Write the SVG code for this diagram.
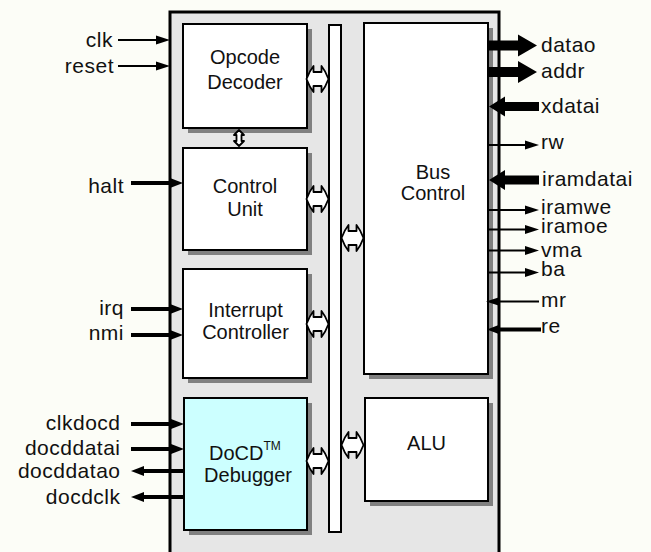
<svg xmlns="http://www.w3.org/2000/svg" width="651" height="552" viewBox="0 0 651 552">
<style>
  text { font-family: "Liberation Sans", Arial, sans-serif; font-size: 20px; fill: #111; }
  .sig { font-size: 21px; letter-spacing: 0.5px; }
  .lbl { text-anchor: middle; }
  .lft { text-anchor: end; }
  .box { fill: #fff; stroke: #000; stroke-width: 2; }
  .dbg { fill: #ccffff; }
  .shd { fill: #808080; }
  .w2 { stroke: #000; stroke-width: 2; fill: none; }
  .w4 { stroke: #000; stroke-width: 4; fill: none; }
  .blk { fill: #000; }
  .dbl { fill: #fff; stroke: #000; stroke-width: 1.8; stroke-linejoin: round; }
</style>
<defs>
  <marker id="ah2" markerUnits="userSpaceOnUse" markerWidth="14" markerHeight="10" refX="0" refY="5" orient="auto">
    <path d="M0,0.5 L14,5 L0,9.5 Z" fill="#000"/>
  </marker>
  <marker id="ah4" markerUnits="userSpaceOnUse" markerWidth="13" markerHeight="11" refX="0" refY="5.5" orient="auto">
    <path d="M0,0.5 L13,5.5 L0,10.5 Z" fill="#000"/>
  </marker>
  <path id="hdbl" d="M-11,0 Q-8,-8 -4,-13 L-4,-7 L4,-7 L4,-13 Q8,-8 11,0 Q8,8 4,13 L4,7 L-4,7 L-4,13 Q-8,8 -11,0 Z"/>
  <path id="vdbl" d="M0,-8 L-5,-3 L-2.5,-3 L-2.5,3 L-5,3 L0,8 L5,3 L2.5,3 L2.5,-3 L5,-3 Z"/>
</defs>
<rect width="651" height="552" fill="#fcfdf7"/>

<g id="chip">
  <rect x="170" y="12" width="329" height="560" fill="#e6e6e6" stroke="#000" stroke-width="3"/>
</g>

<g id="opcode-decoder">
  <rect class="shd" x="188" y="29" width="124" height="104"/>
  <rect class="box" x="183" y="24" width="124" height="104"/>
  <text class="lbl" x="245" y="64">Opcode</text>
  <text class="lbl" x="245" y="89">Decoder</text>
</g>

<g id="control-unit">
  <rect class="shd" x="188" y="153" width="124" height="102"/>
  <rect class="box" x="183" y="148" width="124" height="102"/>
  <text class="lbl" x="245" y="193">Control</text>
  <text class="lbl" x="245" y="216">Unit</text>
</g>

<g id="interrupt-controller">
  <rect class="shd" x="188" y="274" width="124" height="109"/>
  <rect class="box" x="183" y="269" width="124" height="109"/>
  <text class="lbl" x="245.5" y="316.5">Interrupt</text>
  <text class="lbl" x="245.5" y="338.5">Controller</text>
</g>

<g id="docd-debugger">
  <rect class="shd" x="189" y="403" width="123" height="132"/>
  <rect class="box dbg" x="184" y="398" width="123" height="132"/>
  <text x="209" y="460">DoCD<tspan font-size="12" dy="-10">TM</tspan></text>
  <text class="lbl" x="248" y="482">Debugger</text>
</g>

<g id="internal-bus">
  <rect class="box" x="329" y="25" width="12" height="507"/>
</g>

<g id="bus-control">
  <rect class="shd" x="369" y="28" width="124" height="351"/>
  <rect class="box" x="364" y="23" width="124" height="351"/>
  <text class="lbl" x="433" y="179">Bus</text>
  <text class="lbl" x="433" y="200">Control</text>
</g>

<g id="alu">
  <rect class="shd" x="370" y="403" width="123" height="103"/>
  <rect class="box" x="365" y="398" width="123" height="103"/>
  <text class="lbl" x="426.5" y="450">ALU</text>
</g>

<g id="connectors">
  <!-- internal bus links -->
  <use href="#hdbl" class="dbl" x="317.5" y="79"/>
  <use href="#hdbl" class="dbl" x="317.5" y="199"/>
  <use href="#hdbl" class="dbl" x="317.5" y="324"/>
  <use href="#hdbl" class="dbl" x="317.5" y="461"/>
  <use href="#hdbl" class="dbl" x="352.5" y="238"/>
  <use href="#hdbl" class="dbl" x="352.5" y="445"/>
  <use href="#vdbl" class="dbl" x="239" y="138"/>

  <!-- left side signals -->
  <line class="w2" x1="118" y1="40" x2="156" y2="40" marker-end="url(#ah2)"/>
  <line class="w2" x1="118" y1="66" x2="156" y2="66" marker-end="url(#ah2)"/>
  <line class="w4" x1="131" y1="183" x2="170" y2="183" marker-end="url(#ah4)"/>
  <line class="w4" x1="131" y1="309" x2="170" y2="309" marker-end="url(#ah4)"/>
  <line class="w4" x1="131" y1="335" x2="170" y2="335" marker-end="url(#ah4)"/>
  <line class="w4" x1="131" y1="424" x2="171" y2="424" marker-end="url(#ah4)"/>
  <line class="w4" x1="131" y1="449" x2="171" y2="449" marker-end="url(#ah4)"/>
  <line class="w4" x1="184" y1="471" x2="144" y2="471" marker-end="url(#ah4)"/>
  <line class="w4" x1="184" y1="497" x2="144" y2="497" marker-end="url(#ah4)"/>

  <!-- right side signals -->
  <polygon class="blk" points="488,40.5 518,40.5 518,34.5 537,45.5 518,56.5 518,50.5 488,50.5"/>
  <polygon class="blk" points="488,67 518,67 518,61 537,72 518,83 518,77 488,77"/>
  <polygon class="blk" points="539,102 505,102 505,96.5 489,106.5 505,116.5 505,111 539,111"/>
  <line class="w2" x1="488" y1="145" x2="525" y2="145" marker-end="url(#ah2)"/>
  <polygon class="blk" points="539,175.5 505,175.5 505,170 489,180 505,190 505,184.5 539,184.5"/>
  <line class="w2" x1="488" y1="210" x2="525" y2="210" marker-end="url(#ah2)"/>
  <line class="w2" x1="488" y1="229.5" x2="525" y2="229.5" marker-end="url(#ah2)"/>
  <line class="w2" x1="488" y1="250.5" x2="525" y2="250.5" marker-end="url(#ah2)"/>
  <line class="w2" x1="488" y1="272.5" x2="525" y2="272.5" marker-end="url(#ah2)"/>
  <line class="w2" x1="539" y1="301.5" x2="500" y2="301.5" marker-end="url(#ah2)"/>
  <line class="w4" x1="541" y1="329.5" x2="500" y2="329.5" marker-end="url(#ah4)"/>
</g>

<g id="labels">
  <text class="sig lft" x="113" y="47">clk</text>
  <text class="sig lft" x="114" y="73">reset</text>
  <text class="sig lft" x="124" y="193">halt</text>
  <text class="sig lft" x="124" y="315">irq</text>
  <text class="sig lft" x="124" y="340">nmi</text>
  <text class="sig lft" x="120.5" y="429.5">clkdocd</text>
  <text class="sig lft" x="120.5" y="455">docddatai</text>
  <text class="sig lft" x="120.5" y="478">docddatao</text>
  <text class="sig lft" x="120.5" y="504">docdclk</text>

  <text class="sig" x="541" y="52">datao</text>
  <text class="sig" x="541" y="78">addr</text>
  <text class="sig" x="541" y="113">xdatai</text>
  <text class="sig" x="541" y="149">rw</text>
  <text class="sig" x="542" y="186">iramdatai</text>
  <text class="sig" x="541" y="214">iramwe</text>
  <text class="sig" x="541" y="233">iramoe</text>
  <text class="sig" x="541" y="257">vma</text>
  <text class="sig" x="541" y="276">ba</text>
  <text class="sig" x="541" y="307">mr</text>
  <text class="sig" x="541" y="333">re</text>
</g>
</svg>
